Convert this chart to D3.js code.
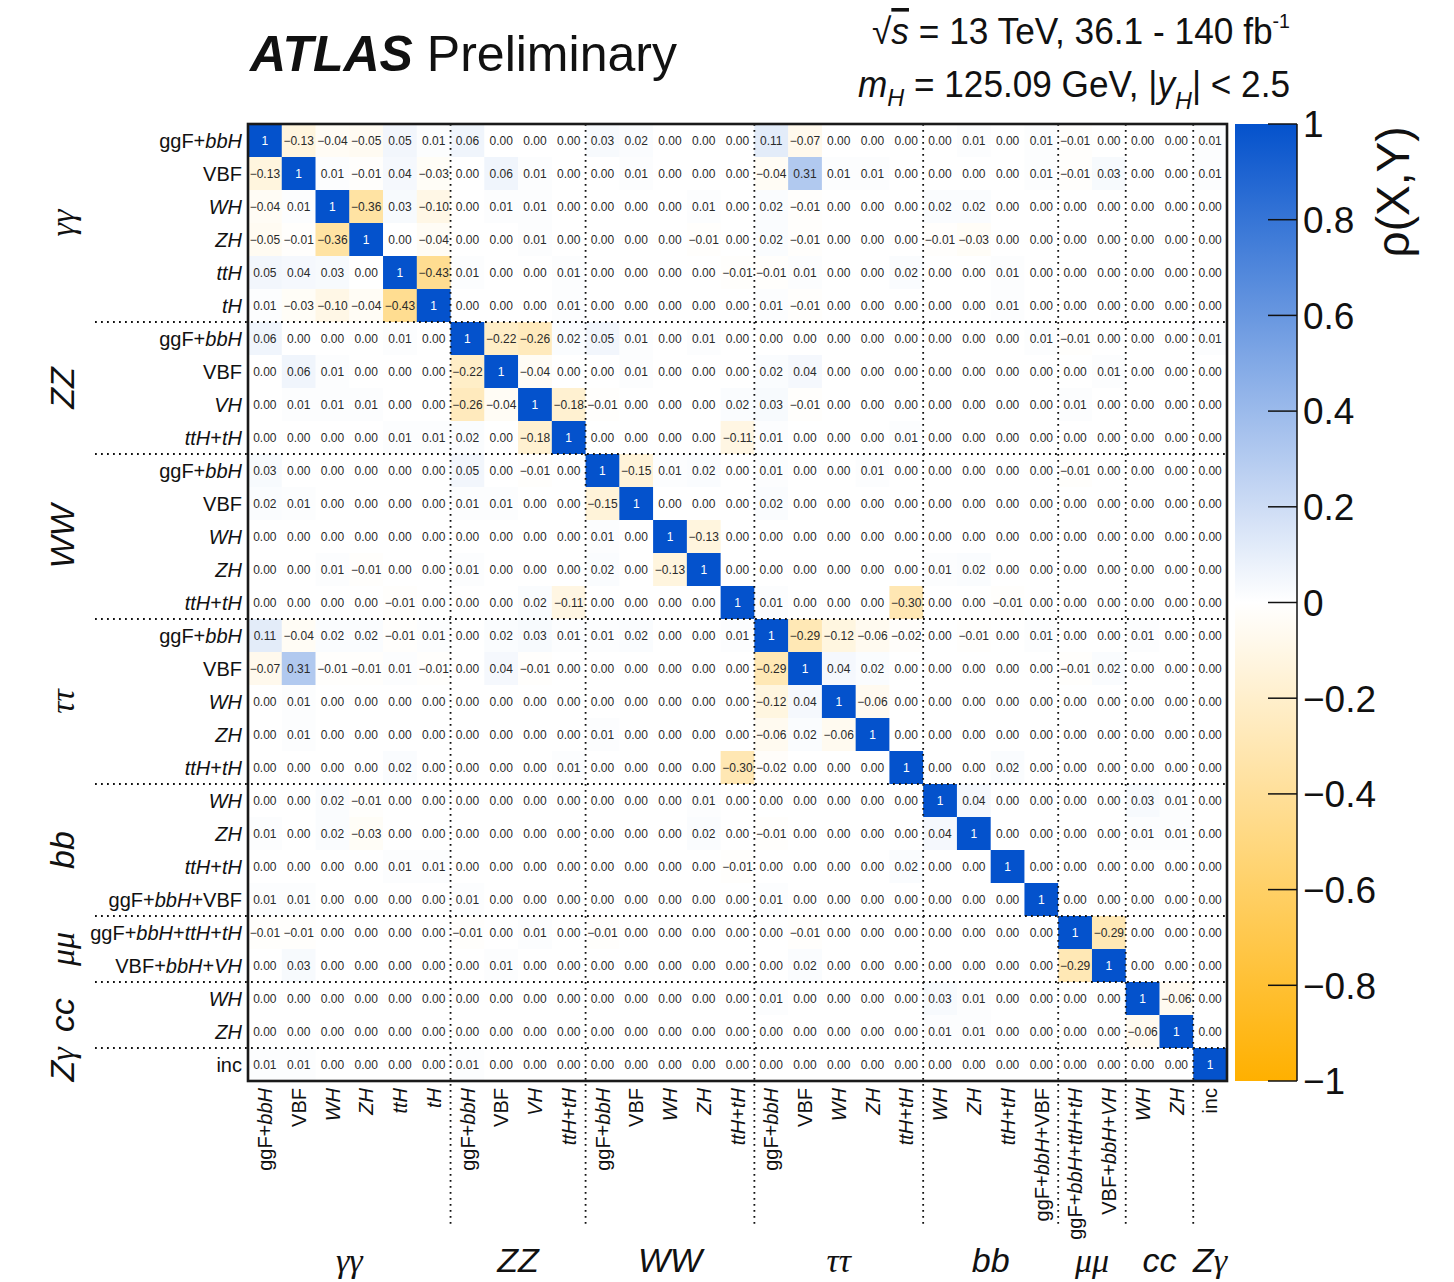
<!DOCTYPE html>
<html>
<head>
<meta charset="utf-8">
<script src="https://cdn.jsdelivr.net/npm/d3@7"></script>
<style>
  html, body { margin: 0; padding: 0; background: #fff; }
  svg text { font-family: "Liberation Sans", Arial, Helvetica, sans-serif; }
  svg tspan.greek { font-family: "Liberation Serif", "Times New Roman", serif; }
</style>
</head>
<body>
<svg id="chart" width="1454" height="1282"></svg>
<script>
// Decay-channel groups and their production-mode categories.
const groupNames = ["γγ", "ZZ", "WW", "ττ", "bb", "μμ", "cc", "Zγ"];
const groupSizes = [6, 4, 5, 5, 4, 2, 2, 1];

// Category labels; text in braces is set in italics.
const categories = [
  "ggF+{bbH}", "VBF", "{WH}", "{ZH}", "{ttH}", "{tH}",
  "ggF+{bbH}", "VBF", "{VH}", "{ttH}+{tH}",
  "ggF+{bbH}", "VBF", "{WH}", "{ZH}", "{ttH}+{tH}",
  "ggF+{bbH}", "VBF", "{WH}", "{ZH}", "{ttH}+{tH}",
  "{WH}", "{ZH}", "{ttH}+{tH}", "ggF+{bbH}+VBF",
  "ggF+{bbH}+{ttH}+{tH}", "VBF+{bbH}+{VH}",
  "{WH}", "{ZH}",
  "inc"
];

// Correlation coefficients rho(X,Y), one row per category.
const correlations = [
  [1,-0.13,-0.04,-0.05,0.05,0.01, 0.06,0.00,0.00,0.00, 0.03,0.02,0.00,0.00,0.00, 0.11,-0.07,0.00,0.00,0.00, 0.00,0.01,0.00,0.01, -0.01,0.00, 0.00,0.00, 0.01],
  [-0.13,1,0.01,-0.01,0.04,-0.03, 0.00,0.06,0.01,0.00, 0.00,0.01,0.00,0.00,0.00, -0.04,0.31,0.01,0.01,0.00, 0.00,0.00,0.00,0.01, -0.01,0.03, 0.00,0.00, 0.01],
  [-0.04,0.01,1,-0.36,0.03,-0.10, 0.00,0.01,0.01,0.00, 0.00,0.00,0.00,0.01,0.00, 0.02,-0.01,0.00,0.00,0.00, 0.02,0.02,0.00,0.00, 0.00,0.00, 0.00,0.00, 0.00],
  [-0.05,-0.01,-0.36,1,0.00,-0.04, 0.00,0.00,0.01,0.00, 0.00,0.00,0.00,-0.01,0.00, 0.02,-0.01,0.00,0.00,0.00, -0.01,-0.03,0.00,0.00, 0.00,0.00, 0.00,0.00, 0.00],
  [0.05,0.04,0.03,0.00,1,-0.43, 0.01,0.00,0.00,0.01, 0.00,0.00,0.00,0.00,-0.01, -0.01,0.01,0.00,0.00,0.02, 0.00,0.00,0.01,0.00, 0.00,0.00, 0.00,0.00, 0.00],
  [0.01,-0.03,-0.10,-0.04,-0.43,1, 0.00,0.00,0.00,0.01, 0.00,0.00,0.00,0.00,0.00, 0.01,-0.01,0.00,0.00,0.00, 0.00,0.00,0.01,0.00, 0.00,0.00, 0.00,0.00, 0.00],
  [0.06,0.00,0.00,0.00,0.01,0.00, 1,-0.22,-0.26,0.02, 0.05,0.01,0.00,0.01,0.00, 0.00,0.00,0.00,0.00,0.00, 0.00,0.00,0.00,0.01, -0.01,0.00, 0.00,0.00, 0.01],
  [0.00,0.06,0.01,0.00,0.00,0.00, -0.22,1,-0.04,0.00, 0.00,0.01,0.00,0.00,0.00, 0.02,0.04,0.00,0.00,0.00, 0.00,0.00,0.00,0.00, 0.00,0.01, 0.00,0.00, 0.00],
  [0.00,0.01,0.01,0.01,0.00,0.00, -0.26,-0.04,1,-0.18, -0.01,0.00,0.00,0.00,0.02, 0.03,-0.01,0.00,0.00,0.00, 0.00,0.00,0.00,0.00, 0.01,0.00, 0.00,0.00, 0.00],
  [0.00,0.00,0.00,0.00,0.01,0.01, 0.02,0.00,-0.18,1, 0.00,0.00,0.00,0.00,-0.11, 0.01,0.00,0.00,0.00,0.01, 0.00,0.00,0.00,0.00, 0.00,0.00, 0.00,0.00, 0.00],
  [0.03,0.00,0.00,0.00,0.00,0.00, 0.05,0.00,-0.01,0.00, 1,-0.15,0.01,0.02,0.00, 0.01,0.00,0.00,0.01,0.00, 0.00,0.00,0.00,0.00, -0.01,0.00, 0.00,0.00, 0.00],
  [0.02,0.01,0.00,0.00,0.00,0.00, 0.01,0.01,0.00,0.00, -0.15,1,0.00,0.00,0.00, 0.02,0.00,0.00,0.00,0.00, 0.00,0.00,0.00,0.00, 0.00,0.00, 0.00,0.00, 0.00],
  [0.00,0.00,0.00,0.00,0.00,0.00, 0.00,0.00,0.00,0.00, 0.01,0.00,1,-0.13,0.00, 0.00,0.00,0.00,0.00,0.00, 0.00,0.00,0.00,0.00, 0.00,0.00, 0.00,0.00, 0.00],
  [0.00,0.00,0.01,-0.01,0.00,0.00, 0.01,0.00,0.00,0.00, 0.02,0.00,-0.13,1,0.00, 0.00,0.00,0.00,0.00,0.00, 0.01,0.02,0.00,0.00, 0.00,0.00, 0.00,0.00, 0.00],
  [0.00,0.00,0.00,0.00,-0.01,0.00, 0.00,0.00,0.02,-0.11, 0.00,0.00,0.00,0.00,1, 0.01,0.00,0.00,0.00,-0.30, 0.00,0.00,-0.01,0.00, 0.00,0.00, 0.00,0.00, 0.00],
  [0.11,-0.04,0.02,0.02,-0.01,0.01, 0.00,0.02,0.03,0.01, 0.01,0.02,0.00,0.00,0.01, 1,-0.29,-0.12,-0.06,-0.02, 0.00,-0.01,0.00,0.01, 0.00,0.00, 0.01,0.00, 0.00],
  [-0.07,0.31,-0.01,-0.01,0.01,-0.01, 0.00,0.04,-0.01,0.00, 0.00,0.00,0.00,0.00,0.00, -0.29,1,0.04,0.02,0.00, 0.00,0.00,0.00,0.00, -0.01,0.02, 0.00,0.00, 0.00],
  [0.00,0.01,0.00,0.00,0.00,0.00, 0.00,0.00,0.00,0.00, 0.00,0.00,0.00,0.00,0.00, -0.12,0.04,1,-0.06,0.00, 0.00,0.00,0.00,0.00, 0.00,0.00, 0.00,0.00, 0.00],
  [0.00,0.01,0.00,0.00,0.00,0.00, 0.00,0.00,0.00,0.00, 0.01,0.00,0.00,0.00,0.00, -0.06,0.02,-0.06,1,0.00, 0.00,0.00,0.00,0.00, 0.00,0.00, 0.00,0.00, 0.00],
  [0.00,0.00,0.00,0.00,0.02,0.00, 0.00,0.00,0.00,0.01, 0.00,0.00,0.00,0.00,-0.30, -0.02,0.00,0.00,0.00,1, 0.00,0.00,0.02,0.00, 0.00,0.00, 0.00,0.00, 0.00],
  [0.00,0.00,0.02,-0.01,0.00,0.00, 0.00,0.00,0.00,0.00, 0.00,0.00,0.00,0.01,0.00, 0.00,0.00,0.00,0.00,0.00, 1,0.04,0.00,0.00, 0.00,0.00, 0.03,0.01, 0.00],
  [0.01,0.00,0.02,-0.03,0.00,0.00, 0.00,0.00,0.00,0.00, 0.00,0.00,0.00,0.02,0.00, -0.01,0.00,0.00,0.00,0.00, 0.04,1,0.00,0.00, 0.00,0.00, 0.01,0.01, 0.00],
  [0.00,0.00,0.00,0.00,0.01,0.01, 0.00,0.00,0.00,0.00, 0.00,0.00,0.00,0.00,-0.01, 0.00,0.00,0.00,0.00,0.02, 0.00,0.00,1,0.00, 0.00,0.00, 0.00,0.00, 0.00],
  [0.01,0.01,0.00,0.00,0.00,0.00, 0.01,0.00,0.00,0.00, 0.00,0.00,0.00,0.00,0.00, 0.01,0.00,0.00,0.00,0.00, 0.00,0.00,0.00,1, 0.00,0.00, 0.00,0.00, 0.00],
  [-0.01,-0.01,0.00,0.00,0.00,0.00, -0.01,0.00,0.01,0.00, -0.01,0.00,0.00,0.00,0.00, 0.00,-0.01,0.00,0.00,0.00, 0.00,0.00,0.00,0.00, 1,-0.29, 0.00,0.00, 0.00],
  [0.00,0.03,0.00,0.00,0.00,0.00, 0.00,0.01,0.00,0.00, 0.00,0.00,0.00,0.00,0.00, 0.00,0.02,0.00,0.00,0.00, 0.00,0.00,0.00,0.00, -0.29,1, 0.00,0.00, 0.00],
  [0.00,0.00,0.00,0.00,0.00,0.00, 0.00,0.00,0.00,0.00, 0.00,0.00,0.00,0.00,0.00, 0.01,0.00,0.00,0.00,0.00, 0.03,0.01,0.00,0.00, 0.00,0.00, 1,-0.06, 0.00],
  [0.00,0.00,0.00,0.00,0.00,0.00, 0.00,0.00,0.00,0.00, 0.00,0.00,0.00,0.00,0.00, 0.00,0.00,0.00,0.00,0.00, 0.01,0.01,0.00,0.00, 0.00,0.00, -0.06,1, 0.00],
  [0.01,0.01,0.00,0.00,0.00,0.00, 0.01,0.00,0.00,0.00, 0.00,0.00,0.00,0.00,0.00, 0.00,0.00,0.00,0.00,0.00, 0.00,0.00,0.00,0.00, 0.00,0.00, 0.00,0.00, 1]
];

// Colour-bar tick values.
const colorbarTicks = [1, 0.8, 0.6, 0.4, 0.2, 0, -0.2, -0.4, -0.6, -0.8, -1];

const svg = d3.select("#chart");
const n = categories.length;
const idx = d3.range(n);

const plot = { left: 248, right: 1227, top: 124, bottom: 1081 };
const x = d3.scaleBand().domain(idx).range([plot.left, plot.right]);
const y = d3.scaleBand().domain(idx).range([plot.top, plot.bottom]);

const color = d3.scaleLinear()
  .domain([-1, 0, 1])
  .range(["#FFB000", "#FFFFFF", "#0452CC"])
  .interpolate(d3.interpolateRgb);

// Group boundaries (index where each group starts) and centres.
const groupStarts = [];
let acc = 0;
groupSizes.forEach(s => { groupStarts.push(acc); acc += s; });
const groupCentres = groupSizes.map((s, i) => groupStarts[i] + s / 2);

// Split "ggF+{bbH}" into plain / italic runs.
function runs(label) {
  const out = [];
  const re = /\{([^}]*)\}|([^{]+)/g;
  let m;
  while ((m = re.exec(label)) !== null) {
    if (m[1] !== undefined) out.push({ t: m[1], it: true });
    else out.push({ t: m[2], it: false });
  }
  return out;
}
function richText(sel, label) {
  runs(label).forEach(r => {
    sel.append("tspan").text(r.t).attr("font-style", r.it ? "italic" : "normal");
  });
}
// Channel names: Greek letters set in a serif face, Latin ones in sans.
function channelText(sel, name) {
  const re = /([\u0370-\u03FF]+)|([^\u0370-\u03FF]+)/g;
  let m;
  while ((m = re.exec(name)) !== null) {
    const t = sel.append("tspan").text(m[0]);
    if (m[1]) t.attr("class", "greek");
  }
}
const fmt = v => v === 1 ? "1" : (v < 0 ? "\u2212" + Math.abs(v).toFixed(2) : v.toFixed(2));

// Cells
const cells = [];
correlations.forEach((row, i) => row.forEach((v, j) => cells.push({ i, j, v })));

svg.append("g").selectAll("rect").data(cells).join("rect")
  .attr("x", d => x(d.j))
  .attr("y", d => y(d.i))
  .attr("width", x.bandwidth() + 0.5)
  .attr("height", y.bandwidth() + 0.5)
  .attr("fill", d => color(d.v));

svg.append("g").selectAll("text").data(cells).join("text")
  .attr("x", d => x(d.j) + x.bandwidth() / 2)
  .attr("y", d => y(d.i) + y.bandwidth() / 2)
  .attr("dy", "0.36em")
  .attr("text-anchor", "middle")
  .attr("font-size", 12)
  .attr("fill", d => d.i === d.j ? "#ffffff" : "#2a2a2a")
  .text(d => fmt(d.v));

// Dotted group separators
const sep = svg.append("g").attr("stroke", "#111").attr("stroke-width", 1.8)
  .attr("stroke-dasharray", "1.8,4.2").attr("fill", "none");
groupStarts.slice(1).forEach(s => {
  const yy = y(s), xx = x(s);
  sep.append("line").attr("x1", 95).attr("x2", plot.right).attr("y1", yy).attr("y2", yy);
  sep.append("line").attr("x1", xx).attr("x2", xx).attr("y1", plot.top).attr("y2", 1225);
});

// Frame
svg.append("rect")
  .attr("x", plot.left).attr("y", plot.top)
  .attr("width", plot.right - plot.left).attr("height", plot.bottom - plot.top)
  .attr("fill", "none").attr("stroke", "#1a1a1a").attr("stroke-width", 2.6);

// Row labels
svg.append("g").selectAll("text").data(idx).join("text")
  .attr("x", plot.left - 6)
  .attr("y", i => y(i) + y.bandwidth() / 2)
  .attr("dy", "0.36em")
  .attr("text-anchor", "end")
  .attr("font-size", 20)
  .attr("fill", "#111")
  .each(function (i) { richText(d3.select(this), categories[i]); });

// Column labels (rotated)
svg.append("g").selectAll("text").data(idx).join("text")
  .attr("transform", i => `translate(${x(i) + x.bandwidth() / 2},${plot.bottom + 7}) rotate(-90)`)
  .attr("dy", "0.36em")
  .attr("text-anchor", "end")
  .attr("font-size", 20)
  .attr("fill", "#111")
  .each(function (i) { richText(d3.select(this), categories[i]); });

// Group labels, left (rotated) and bottom
svg.append("g").selectAll("text").data(groupNames).join("text")
  .attr("transform", (g, k) => `translate(62,${plot.top + groupCentres[k] * y.bandwidth()}) rotate(-90)`)
  .attr("dy", "0.36em")
  .attr("text-anchor", "middle")
  .attr("font-size", 34)
  .attr("font-style", "italic")
  .attr("fill", "#111")
  .each(function (g) { channelText(d3.select(this), g); });

svg.append("g").selectAll("text").data(groupNames).join("text")
  .attr("x", (g, k) => plot.left + groupCentres[k] * x.bandwidth())
  .attr("y", 1272)
  .attr("text-anchor", "middle")
  .attr("font-size", 34)
  .attr("font-style", "italic")
  .attr("fill", "#111")
  .each(function (g) { channelText(d3.select(this), g); });

// Colour bar
const cb = { x: 1235, w: 62 };
const cy = d3.scaleLinear().domain([-1, 1]).range([plot.bottom, plot.top]);
const defs = svg.append("defs");
const grad = defs.append("linearGradient").attr("id", "cbgrad")
  .attr("x1", 0).attr("y1", 1).attr("x2", 0).attr("y2", 0);
d3.range(0, 1.0001, 0.05).forEach(t => {
  grad.append("stop").attr("offset", t).attr("stop-color", color(-1 + 2 * t));
});
svg.append("rect").attr("x", cb.x).attr("y", plot.top)
  .attr("width", cb.w).attr("height", plot.bottom - plot.top)
  .attr("fill", "url(#cbgrad)");
svg.append("line").attr("x1", cb.x + cb.w).attr("x2", cb.x + cb.w)
  .attr("y1", plot.top).attr("y2", plot.bottom)
  .attr("stroke", "#111").attr("stroke-width", 1.5);

const cbTicks = svg.append("g");
cbTicks.selectAll("line").data(colorbarTicks).join("line")
  .attr("x1", cb.x + cb.w - 29).attr("x2", cb.x + cb.w)
  .attr("y1", d => cy(d)).attr("y2", d => cy(d))
  .attr("stroke", "#111").attr("stroke-width", 1.5);
cbTicks.selectAll("text").data(colorbarTicks).join("text")
  .attr("x", cb.x + cb.w + 6)
  .attr("y", d => cy(d))
  .attr("dy", "0.36em")
  .attr("font-size", 37)
  .attr("fill", "#111")
  .text(d => d === 0 ? "0" : (d < 0 ? "\u2212" + Math.abs(d) : String(d)));

svg.append("text")
  .attr("transform", `translate(1392,192) rotate(-90)`)
  .attr("dy", "0.36em")
  .attr("text-anchor", "middle")
  .attr("font-size", 46)
  .attr("fill", "#111")
  .text("ρ(X,Y)");

// Titles
const title = svg.append("text").attr("x", 250).attr("y", 71)
  .attr("font-size", 50).attr("fill", "#111");
title.append("tspan").attr("font-weight", "bold").attr("font-style", "italic").text("ATLAS");
title.append("tspan").text(" Preliminary");

const l1 = svg.append("text").attr("x", 872).attr("y", 44)
  .attr("font-size", 36).attr("fill", "#111")
  .attr("textLength", 418).attr("lengthAdjust", "spacingAndGlyphs");
l1.append("tspan").text("√");
l1.append("tspan").attr("font-style", "italic").attr("text-decoration", "overline").text("s");
l1.append("tspan").text(" = 13 TeV, 36.1 - 140 fb");
l1.append("tspan").attr("font-size", 20).attr("dy", -16).text("-1");

const l2 = svg.append("text").attr("x", 858).attr("y", 97)
  .attr("font-size", 36).attr("fill", "#111")
  .attr("textLength", 432).attr("lengthAdjust", "spacingAndGlyphs");
l2.append("tspan").attr("font-style", "italic").text("m");
l2.append("tspan").attr("font-style", "italic").attr("font-size", 24).attr("dy", 9).text("H");
l2.append("tspan").attr("dy", -9).text(" = 125.09 GeV, |");
l2.append("tspan").attr("font-style", "italic").text("y");
l2.append("tspan").attr("font-style", "italic").attr("font-size", 24).attr("dy", 12).text("H");
l2.append("tspan").attr("dy", -12).text("| < 2.5");
</script>
</body>
</html>
